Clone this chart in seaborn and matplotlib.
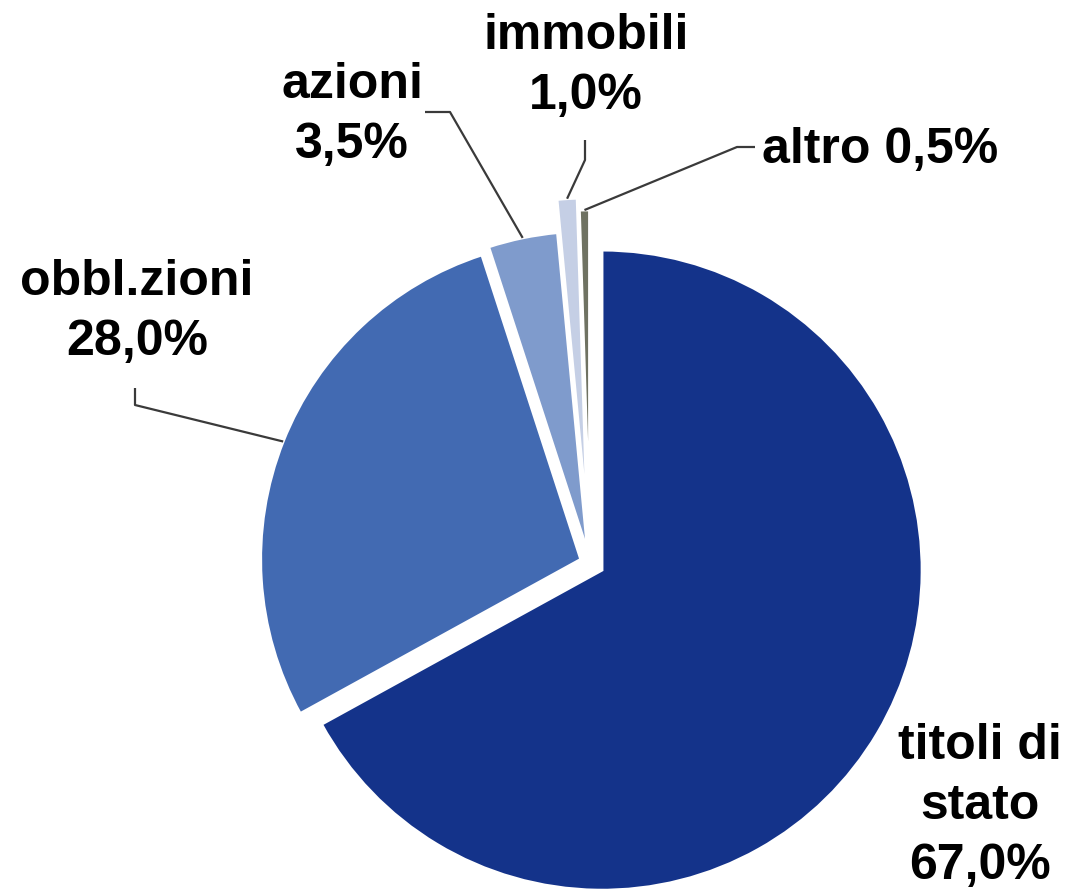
import numpy as np
import matplotlib
matplotlib.use("Agg")
import matplotlib.pyplot as plt
import seaborn as sns

# ---- data ----
categories = ["titoli di\nstato", "obbl.zioni", "azioni", "immobili", "altro"]
shares = [67.0, 28.0, 3.5, 1.0, 0.5]

# ---- style ----
colors = ["#14338A", "#426AB2", "#7F9BCC", "#C5CFE5", "#6F7262"]
explode_px = [14, 10, 12, 45, 33]
label_sep = ["\n", "\n", "\n", "\n", " "]
# label centres (image pixels) and leader elbows (image pixels)
label_pos = [(980, 806), (137, 312), (352, 115), (586, 66), (880, 150)]
leaders = [None,
           [(135, 388), (135, 405)],
           [(425, 112), (450, 112)],
           [(585, 140), (585, 160)],
           [(755, 147), (737, 147)]]

W, H = 1074, 893
sns.set_theme(style="white")
plt.rcParams['font.family'] = ['Liberation Sans', 'DejaVu Sans']

fig = plt.figure(figsize=(W / 100, H / 100), dpi=100)
ax = fig.add_axes([0, 0, 1, 1])

cx, cy_img, R = 590, 563, 320
pal = sns.color_palette(colors)
wedges, _ = ax.pie(shares, colors=pal, startangle=90, counterclock=False,
                   center=(cx, H - cy_img), radius=R, explode=explode_px,
                   wedgeprops=dict(edgecolor="white", linewidth=2))
ax.set_xlim(0, W)
ax.set_ylim(0, H)
ax.set_aspect('equal')
ax.axis('off')

def fmt(v):
    return f"{v:.1f}%".replace('.', ',')

for i, (cat, v) in enumerate(zip(categories, shares)):
    txt = f"{cat}{label_sep[i]}{fmt(v)}"
    lx, ly = label_pos[i]
    ax.text(lx, H - ly, txt, ha='center', va='center', multialignment='center',
            fontsize=36, fontweight='bold', color='black', linespacing=1.38)
    if leaders[i] is not None:
        w = wedges[i]
        tm = np.deg2rad(0.5 * (w.theta1 + w.theta2))
        ax_, ay_ = w.center[0] + w.r * np.cos(tm), w.center[1] + w.r * np.sin(tm)
        pts = [(x, H - y) for x, y in leaders[i]] + [(ax_, ay_)]
        xs, ys = zip(*pts)
        ax.plot(xs, ys, color="#3A3A3A", lw=1.6, solid_capstyle='butt')

fig.savefig("out.png", dpi=100)
